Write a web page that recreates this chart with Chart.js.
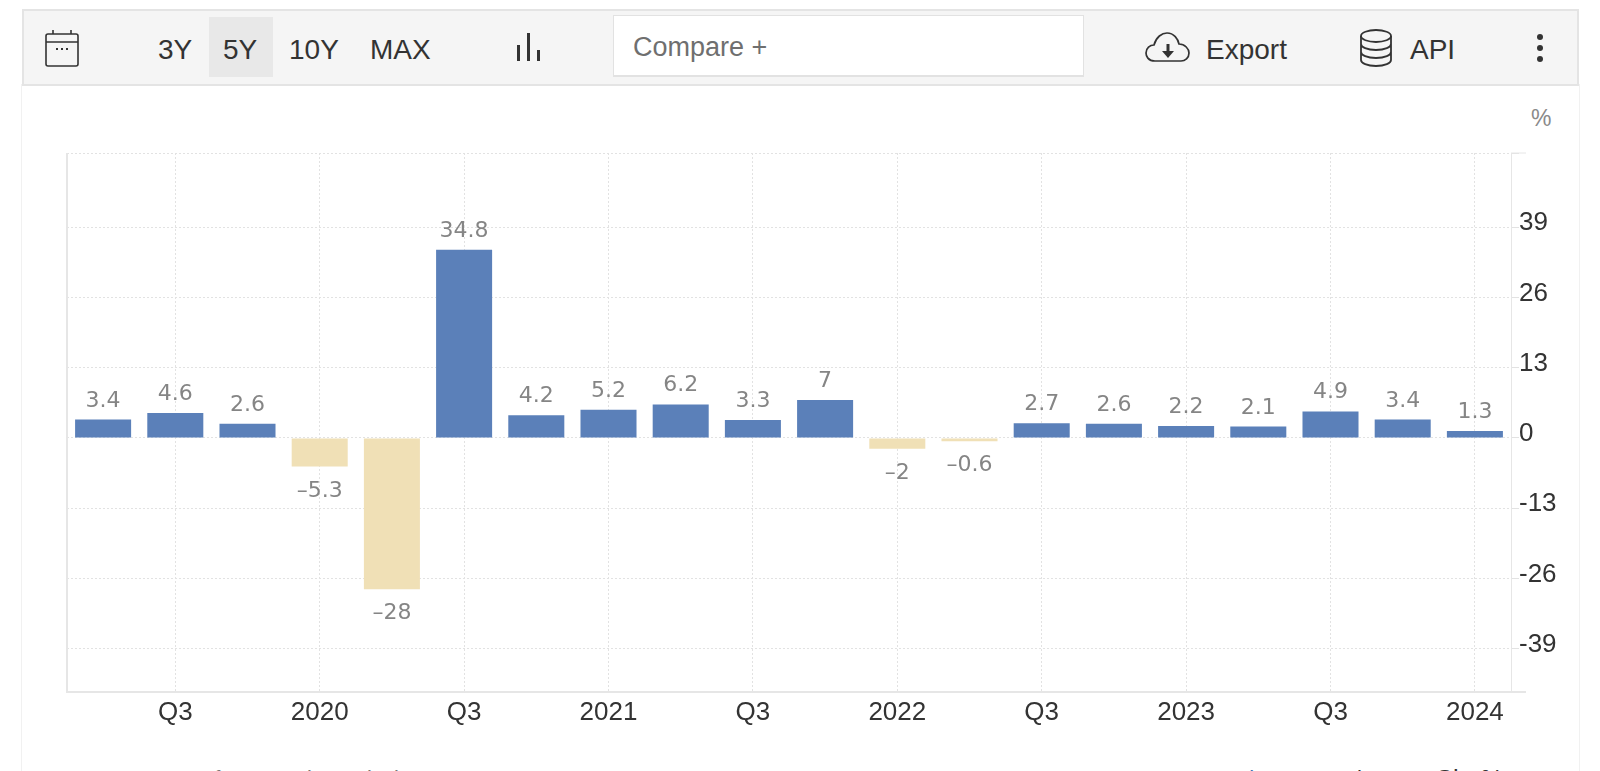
<!DOCTYPE html>
<html>
<head>
<meta charset="utf-8">
<script src="https://cdn.jsdelivr.net/npm/chart.js@4"></script>
<style>
html, body { margin: 0; padding: 0; background: #fff; overflow: hidden; }
body { width: 1600px; height: 771px; position: relative; font-family: "Liberation Sans", Arial, sans-serif; color: #333; }
#frame { position: absolute; left: 21px; top: 84px; width: 1557px; height: 700px; border-left: 1px solid #f1f1f1; border-right: 1px solid #f1f1f1; }
#bar { position: absolute; left: 22px; top: 9px; width: 1553px; height: 73px; background: #f5f5f5; border: 2px solid #e4e4e4; }
.t { position: absolute; font-size: 28px; line-height: 30px; white-space: nowrap; color: #333; }
#active { position: absolute; left: 209px; top: 17px; width: 64px; height: 60px; background: #e8e8e8; }
#compare { position: absolute; left: 613px; top: 15px; width: 471px; height: 62px; background: #fff; border: 1px solid #e2e2e2; border-bottom-width: 2px; box-sizing: border-box; }
#compare span { position: absolute; left: 19px; top: 16px; font-size: 27px; line-height: 30px; color: #6f6f6f; }
svg { position: absolute; }
#wrap { position: absolute; left: 0; top: 90px; width: 1600px; height: 640px; }
#unit { position: absolute; left: 1531px; top: 105px; font-size: 23px; line-height: 26px; color: #8a8a8a; }
.src { position: absolute; top: 766px; font-size: 22px; line-height: 26px; white-space: nowrap; }
</style>
</head>
<body>
<div id="frame"></div>
<div id="bar"></div>
<div id="active"></div>
<svg style="left:44px;top:29px" width="38" height="40" viewBox="0 0 38 40" fill="none" stroke="#333" stroke-width="1.6"><rect x="2" y="5" width="32" height="32" rx="2"/><path d="M2 13H34M9 1V5M27 1V5"/><path d="M12 20h2M17 20h2M22 20h2" stroke-width="2"/></svg>
<div class="t" style="left:158px;top:35px">3Y</div>
<div class="t" style="left:223px;top:35px">5Y</div>
<div class="t" style="left:289px;top:35px">10Y</div>
<div class="t" style="left:370px;top:35px">MAX</div>
<svg style="left:514px;top:30px" width="32" height="34" fill="#333"><rect x="3" y="15" width="3" height="16"/><rect x="13" y="3" width="3" height="28"/><rect x="23" y="20" width="3" height="11"/></svg>
<div id="compare"><span>Compare +</span></div>
<svg style="left:1144px;top:30px" width="48" height="36" viewBox="0 0 48 36" fill="none" stroke="#333" stroke-width="1.7"><path d="M11 31C4 31 2 26 2 23C2 18 6 15 10 15C12 7 18 3 23 3C30 3 34 9 35 14C41 14 45 19 45 23C45 28 41 31 37 31Z"/><path d="M24 14V24" stroke-width="3"/><path d="M18 21H30L24 28Z" fill="#333" stroke="none"/></svg>
<div class="t" style="left:1206px;top:35px">Export</div>
<svg style="left:1358px;top:28px" width="36" height="40" viewBox="0 0 36 40" fill="none" stroke="#333" stroke-width="1.8"><ellipse cx="18" cy="8" rx="15" ry="6"/><path d="M3 8V32C3 35 9 38 18 38S33 35 33 32V8M3 16C3 19 9 22 18 22S33 19 33 16M3 24C3 27 9 30 18 30S33 27 33 24"/></svg>
<div class="t" style="left:1410px;top:35px">API</div>
<svg style="left:1533px;top:32px" width="14" height="32" fill="#333"><circle cx="7" cy="5" r="3"/><circle cx="7" cy="16" r="3"/><circle cx="7" cy="27" r="3"/></svg>
<div id="unit">%</div>
<div id="wrap"><canvas id="chart" width="1600" height="640"></canvas></div>
<div class="src" style="left:76px;color:#777">U.S. Bureau of Economic Analysis</div>
<div class="src" style="left:1224px;color:#3d6fb0">Value</div>
<div class="src" style="left:1341px">Change</div>
<div class="src" style="left:1435px;font-size:25px">Chg%</div>
<script>
const categories = ['Q2 2019','Q3 2019','Q4 2019','Q1 2020','Q2 2020','Q3 2020','Q4 2020','Q1 2021','Q2 2021','Q3 2021','Q4 2021','Q1 2022','Q2 2022','Q3 2022','Q4 2022','Q1 2023','Q2 2023','Q3 2023','Q4 2023','Q1 2024'];
const gdpValues = [3.4, 4.6, 2.6, -5.3, -28, 34.8, 4.2, 5.2, 6.2, 3.3, 7, -2, -0.6, 2.7, 2.6, 2.2, 2.1, 4.9, 3.4, 1.3];
const yTicks = [-39, -26, -13, 0, 13, 26, 39];
const yMin = -47;
const yMax = 52.7;
// which bar each x label sits under, the rest stay blank
const xTickLabels = { 'Q3 2019': 'Q3', 'Q1 2020': '2020', 'Q3 2020': 'Q3', 'Q1 2021': '2021', 'Q3 2021': 'Q3', 'Q1 2022': '2022', 'Q3 2022': 'Q3', 'Q1 2023': '2023', 'Q3 2023': 'Q3', 'Q1 2024': '2024' };

const posColor = '#5b80b9';
const negColor = '#f0e0b6';
const lineColor = '#e6e6e6';
const gridColor = '#e2e2e2';

// value labels above / below each bar
const valueLabels = {
    id: 'valueLabels',
    afterDatasetsDraw(chart) {
        const c = chart.ctx;
        const meta = chart.getDatasetMeta(0);
        c.save();
        c.font = '22px "DejaVu Sans"';
        c.fillStyle = '#858585';
        c.textAlign = 'center';
        c.textBaseline = 'alphabetic';
        meta.data.forEach((bar, i) => {
            const v = gdpValues[i];
            if (v >= 0) c.fillText(String(v), bar.x, bar.y - 13);
            else c.fillText(String(v).replace('-', '\u2013'), bar.x, bar.y + 30);
        });
        c.restore();
    }
};

// left edge of the plot and the two longer corner ticks on the right
const plotFrame = {
    id: 'plotFrame',
    beforeDatasetsDraw(chart) {
        const c = chart.ctx;
        const a = chart.chartArea;
        c.save();
        c.strokeStyle = lineColor;
        c.lineWidth = 2;
        c.beginPath();
        c.moveTo(a.left, a.top);
        c.lineTo(a.left, a.bottom);
        c.moveTo(a.right, a.bottom);
        c.lineTo(a.right + 15, a.bottom);
        c.stroke();
        c.lineWidth = 1;
        c.beginPath();
        c.moveTo(a.right, a.top);
        c.lineTo(a.right + 15, a.top);
        c.stroke();
        c.restore();
    }
};

new Chart(document.getElementById('chart').getContext('2d'), {
    type: 'bar',
    data: {
        labels: categories,
        datasets: [{
            data: gdpValues,
            backgroundColor: gdpValues.map(v => v >= 0 ? posColor : negColor),
            barPercentage: 0.776,
            categoryPercentage: 1
        }]
    },
    plugins: [plotFrame, valueLabels],
    options: {
        responsive: false,
        animation: false,
        layout: { padding: { left: 67, right: 0, top: 63, bottom: 0 } },
        plugins: { legend: { display: false }, tooltip: { enabled: false } },
        scales: {
            x: {
                grid: {
                    offset: false,
                    color: ctx => xTickLabels[categories[ctx.index]] ? gridColor : 'transparent',
                    tickLength: 0
                },
                border: { color: lineColor, width: 2, dash: [2, 2] },
                ticks: {
                    autoSkip: false,
                    maxRotation: 0,
                    padding: 5,
                    color: '#333',
                    font: { family: '"Liberation Sans"', size: 26 },
                    callback: (v, i) => xTickLabels[categories[i]] || ''
                },
                afterFit: axis => { axis.height = 38; }
            },
            y: {
                position: 'right',
                min: yMin,
                max: yMax,
                afterBuildTicks: axis => { axis.ticks = [yMin, ...yTicks, yMax].map(v => ({ value: v })); },
                grid: {
                    color: ctx => ctx.tick && ctx.tick.value === yMin ? 'transparent' : gridColor,
                    tickLength: 8
                },
                border: { color: lineColor, dash: [2, 2] },
                ticks: {
                    padding: 0,
                    labelOffset: -4,
                    color: '#333',
                    font: { family: '"Liberation Sans"', size: 26 },
                    callback: v => yTicks.includes(v) ? String(v) : ''
                },
                afterFit: axis => { axis.width = 89; }
            }
        }
    }
});
</script>
</body>
</html>
